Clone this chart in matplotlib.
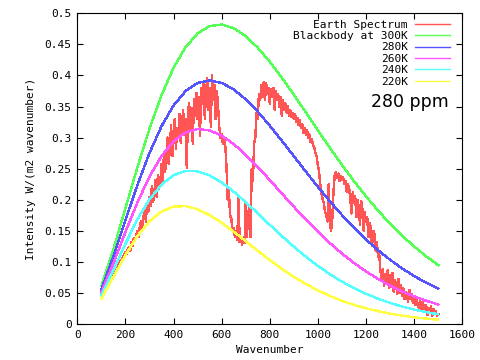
import matplotlib
matplotlib.use("Agg")
import matplotlib.pyplot as plt

# ---- data ----
bb_wavenumber = list(range(100, 1501, 50))
bb_300 = [0.0608, 0.1199, 0.1860, 0.2524, 0.3142, 0.3681, 0.4122, 0.4454, 0.4677, 0.4795,
          0.4819, 0.4761, 0.4632, 0.4448, 0.4222, 0.3965, 0.3690, 0.3405, 0.3117, 0.2834,
          0.2561, 0.2299, 0.2054, 0.1825, 0.1614, 0.1422, 0.1247, 0.1090, 0.0949]
bb_280 = [0.0557, 0.1087, 0.1668, 0.2237, 0.2751, 0.3183, 0.3516, 0.3748, 0.3879, 0.3920,
          0.3881, 0.3775, 0.3616, 0.3418, 0.3193, 0.2951, 0.2701, 0.2452, 0.2208, 0.1974,
          0.1754, 0.1549, 0.1360, 0.1188, 0.1034, 0.0895, 0.0772, 0.0663, 0.0568]
bb_260 = [0.0506, 0.0976, 0.1479, 0.1956, 0.2372, 0.2702, 0.2939, 0.3082, 0.3137, 0.3116,
          0.3031, 0.2896, 0.2724, 0.2528, 0.2317, 0.2101, 0.1887, 0.1680, 0.1484, 0.1302,
          0.1134, 0.0982, 0.0846, 0.0725, 0.0618, 0.0525, 0.0444, 0.0374, 0.0314]
bb_240 = [0.0456, 0.0866, 0.1292, 0.1682, 0.2004, 0.2243, 0.2395, 0.2463, 0.2457, 0.2391,
          0.2277, 0.2130, 0.1961, 0.1780, 0.1596, 0.1416, 0.1243, 0.1082, 0.0935, 0.0801,
          0.0682, 0.0577, 0.0486, 0.0407, 0.0339, 0.0281, 0.0233, 0.0191, 0.0157]
bb_220 = [0.0405, 0.0758, 0.1109, 0.1416, 0.1653, 0.1810, 0.1889, 0.1897, 0.1848, 0.1754,
          0.1629, 0.1486, 0.1333, 0.1178, 0.1029, 0.0889, 0.0760, 0.0644, 0.0541, 0.0452,
          0.0374, 0.0308, 0.0253, 0.0206, 0.0167, 0.0135, 0.0108, 0.0087, 0.0069]

earth_wavenumber = list(range(100, 1501, 5))
earth_intensity = [
    # 100-195
    0.045, 0.049, 0.052, 0.056, 0.060, 0.063, 0.068, 0.071, 0.075, 0.079,
    0.083, 0.086, 0.090, 0.093, 0.097, 0.100, 0.103, 0.101, 0.108, 0.112,
    # 200-295
    0.116, 0.112, 0.120, 0.124, 0.118, 0.132, 0.126, 0.138, 0.134, 0.142,
    0.150, 0.140, 0.158, 0.165, 0.150, 0.172, 0.185, 0.165, 0.195, 0.180,
    # 300-395
    0.205, 0.190, 0.222, 0.196, 0.210, 0.232, 0.205, 0.240, 0.218, 0.226,
    0.258, 0.230, 0.272, 0.245, 0.262, 0.300, 0.258, 0.285, 0.320, 0.270,
    # 400-495
    0.305, 0.330, 0.282, 0.315, 0.300, 0.338, 0.292, 0.320, 0.345, 0.305,
    0.330, 0.252, 0.340, 0.355, 0.310, 0.348, 0.290, 0.362, 0.335, 0.372,
    # 500-595
    0.330, 0.365, 0.302, 0.380, 0.355, 0.390, 0.330, 0.372, 0.395, 0.345,
    0.380, 0.318, 0.400, 0.360, 0.385, 0.330, 0.375, 0.352, 0.318, 0.300,
    # 600-695
    0.305, 0.290, 0.300, 0.288, 0.255, 0.200, 0.215, 0.175, 0.170, 0.150,
    0.155, 0.140, 0.150, 0.135, 0.205, 0.132, 0.140, 0.128, 0.135, 0.130,
    # 700-795
    0.195, 0.140, 0.175, 0.190, 0.140, 0.250, 0.230, 0.290, 0.300, 0.340,
    0.330, 0.370, 0.360, 0.385, 0.365, 0.390, 0.360, 0.388, 0.370, 0.380,
    # 800-895
    0.355, 0.378, 0.365, 0.380, 0.345, 0.375, 0.360, 0.370, 0.350, 0.365,
    0.335, 0.360, 0.345, 0.355, 0.340, 0.350, 0.335, 0.345, 0.333, 0.340,
    # 900-995
    0.330, 0.338, 0.325, 0.332, 0.320, 0.328, 0.315, 0.322, 0.308, 0.316,
    0.305, 0.312, 0.300, 0.305, 0.293, 0.298, 0.288, 0.285, 0.275, 0.270,
    # 1000-1095
    0.255, 0.245, 0.225, 0.210, 0.200, 0.195, 0.180, 0.175, 0.165, 0.225,
    0.160, 0.150, 0.170, 0.215, 0.240, 0.245, 0.235, 0.242, 0.230, 0.238,
    # 1100-1195
    0.232, 0.236, 0.225, 0.230, 0.212, 0.225, 0.218, 0.200, 0.178, 0.212,
    0.195, 0.205, 0.172, 0.200, 0.188, 0.160, 0.198, 0.185, 0.150, 0.180,
    # 1200-1295
    0.165, 0.172, 0.140, 0.162, 0.155, 0.125, 0.150, 0.145, 0.118, 0.132,
    0.108, 0.112, 0.085, 0.072, 0.088, 0.062, 0.080, 0.070, 0.086, 0.058,
    # 1300-1395
    0.078, 0.060, 0.082, 0.052, 0.070, 0.065, 0.048, 0.072, 0.050, 0.062,
    0.045, 0.058, 0.040, 0.052, 0.047, 0.036, 0.055, 0.040, 0.048, 0.034,
    # 1400-1500
    0.044, 0.030, 0.040, 0.032, 0.025, 0.038, 0.022, 0.035, 0.028, 0.020,
    0.030, 0.014, 0.026, 0.018, 0.028, 0.013, 0.024, 0.016, 0.020, 0.013,
    0.016,
]

series_labels = ["Earth Spectrum", "Blackbody at 300K", "280K", "260K", "240K", "220K"]
series_colors = ["#ff5555", "#55ff55", "#5555ff", "#ff55ff", "#55ffff", "#ffff44"]

x_ticks = [0, 200, 400, 600, 800, 1000, 1200, 1400, 1600]
y_ticks = [0, 0.05, 0.1, 0.15, 0.2, 0.25, 0.3, 0.35, 0.4, 0.45, 0.5]
y_tick_labels = ["0", "0.05", "0.1", "0.15", "0.2", "0.25", "0.3", "0.35", "0.4", "0.45", "0.5"]
annotation = "280 ppm"

# ---- plotting ----
mono = "DejaVu Sans Mono"
fig = plt.figure(figsize=(4.8, 3.6), dpi=100)
ax = fig.add_axes([0.161, 0.1, 0.802, 0.863])

lw = 1.0
ax.plot(earth_wavenumber, earth_intensity, color=series_colors[0], lw=lw,
        label=series_labels[0], antialiased=False)
for vals, lab, col in zip([bb_300, bb_280, bb_260, bb_240, bb_220], series_labels[1:], series_colors[1:]):
    ax.plot(bb_wavenumber, vals, color=col, lw=lw, label=lab, antialiased=False)

ax.set_xlim(0, 1600)
ax.set_ylim(0, 0.5)
ax.set_xticks(x_ticks)
ax.set_xticklabels([str(t) for t in x_ticks], fontfamily=mono, fontsize=8)
ax.set_yticks(y_ticks)
ax.set_yticklabels(y_tick_labels, fontfamily=mono, fontsize=8)
ax.tick_params(direction="in", top=True, right=True, length=4.5, width=0.8, pad=4)
for s in ax.spines.values():
    s.set_linewidth(0.8)

ax.set_xlabel("Wavenumber", fontfamily=mono, fontsize=8, labelpad=4)
ax.set_ylabel("Intensity W/(m2 wavenumber)", fontfamily=mono, fontsize=8, labelpad=6)

leg = ax.legend(loc="upper right", bbox_to_anchor=(0.968, 0.98), frameon=False,
                markerfirst=False, prop={"family": mono, "size": 8},
                handlelength=3.1, handletextpad=0.7, labelspacing=0.13, borderaxespad=0,
                borderpad=0)

ax.text(0.966, 0.716, annotation, transform=ax.transAxes, ha="right", va="center",
        fontsize=12.5, fontfamily="DejaVu Sans")

fig.savefig("out.png", dpi=100)
